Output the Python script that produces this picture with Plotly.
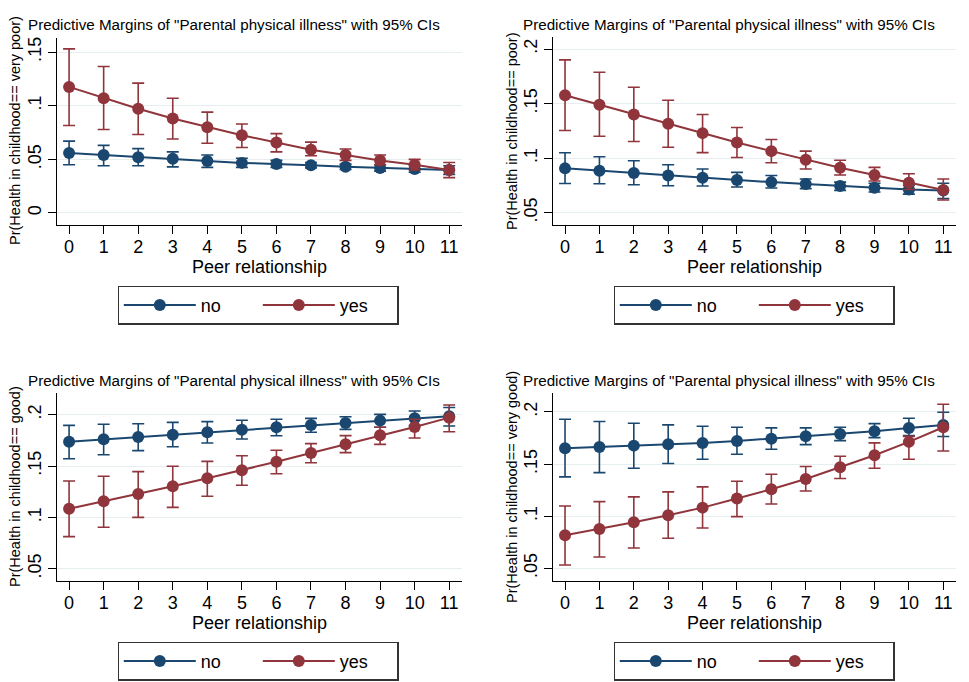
import plotly.graph_objects as go

W, H = 969, 682

peer = list(range(12))
tick_labels_x = [str(v) for v in peer]

vp_no = [0.056, 0.054, 0.052, 0.0505, 0.0485, 0.0467, 0.0457, 0.0445, 0.043, 0.042, 0.041, 0.040]
vp_no_lo = [0.045, 0.044, 0.044, 0.043, 0.0425, 0.0425, 0.0425, 0.042, 0.0405, 0.039, 0.038, 0.036]
vp_no_hi = [0.067, 0.063, 0.060, 0.057, 0.054, 0.051, 0.049, 0.047, 0.0455, 0.045, 0.044, 0.044]
vp_yes = [0.1175, 0.107, 0.0972, 0.088, 0.080, 0.0725, 0.0656, 0.059, 0.054, 0.049, 0.045, 0.040]
vp_yes_lo = [0.0816, 0.0778, 0.0731, 0.069, 0.065, 0.061, 0.057, 0.0534, 0.049, 0.045, 0.040, 0.033]
vp_yes_hi = [0.153, 0.1366, 0.121, 0.107, 0.094, 0.083, 0.074, 0.066, 0.0597, 0.054, 0.050, 0.047]

p_no = [0.0906, 0.0884, 0.0863, 0.0841, 0.082, 0.0799, 0.078, 0.0762, 0.0744, 0.0729, 0.0713, 0.0704]
p_no_lo = [0.0768, 0.0765, 0.0756, 0.0747, 0.0744, 0.0735, 0.0726, 0.072, 0.0704, 0.069, 0.067, 0.063]
p_no_hi = [0.1049, 0.1012, 0.0976, 0.0939, 0.090, 0.0869, 0.0841, 0.0808, 0.078, 0.077, 0.075, 0.077]
p_yes = [0.1576, 0.149, 0.140, 0.1314, 0.1229, 0.1143, 0.1064, 0.0985, 0.0912, 0.0845, 0.0774, 0.0707]
p_yes_lo = [0.1253, 0.120, 0.1152, 0.110, 0.105, 0.1006, 0.0957, 0.090, 0.0845, 0.079, 0.0713, 0.0616]
p_yes_hi = [0.190, 0.1787, 0.165, 0.153, 0.140, 0.128, 0.117, 0.1064, 0.098, 0.0915, 0.0857, 0.0808]

g_no = [0.1737, 0.176, 0.1782, 0.1805, 0.1828, 0.1854, 0.1877, 0.190, 0.1919, 0.1942, 0.1964, 0.1985]
g_no_lo = [0.1571, 0.161, 0.165, 0.1688, 0.1724, 0.1763, 0.1795, 0.1828, 0.1857, 0.1877, 0.1893, 0.189]
g_no_hi = [0.1896, 0.1906, 0.1912, 0.1925, 0.1932, 0.1945, 0.1955, 0.1964, 0.198, 0.2003, 0.2036, 0.207]
g_yes = [0.1084, 0.1156, 0.1227, 0.1302, 0.138, 0.1458, 0.1542, 0.1627, 0.1711, 0.1799, 0.188, 0.1971]
g_yes_lo = [0.0812, 0.0903, 0.100, 0.1097, 0.1205, 0.1312, 0.1425, 0.1532, 0.163, 0.1711, 0.1773, 0.1834]
g_yes_hi = [0.1354, 0.140, 0.1445, 0.1497, 0.1545, 0.160, 0.1653, 0.1718, 0.1796, 0.1877, 0.1955, 0.2094]

vg_no = [0.1652, 0.1664, 0.1677, 0.169, 0.1703, 0.1722, 0.1744, 0.1767, 0.1789, 0.1815, 0.1847, 0.1876]
vg_no_lo = [0.1377, 0.1418, 0.146, 0.1505, 0.1546, 0.1594, 0.1642, 0.1687, 0.1725, 0.1754, 0.1773, 0.1764]
vg_no_hi = [0.193, 0.1908, 0.1892, 0.1876, 0.1863, 0.1853, 0.1847, 0.1847, 0.1853, 0.1888, 0.194, 0.1997]
vg_yes = [0.0817, 0.0877, 0.0941, 0.1009, 0.1082, 0.1169, 0.1258, 0.1357, 0.1469, 0.1585, 0.1713, 0.1853]
vg_yes_lo = [0.0532, 0.0609, 0.0695, 0.0788, 0.0887, 0.0996, 0.1117, 0.1242, 0.1361, 0.146, 0.1546, 0.1626]
vg_yes_hi = [0.1098, 0.114, 0.1185, 0.1233, 0.1281, 0.1335, 0.1402, 0.1476, 0.1575, 0.1703, 0.1766, 0.2074]

ylabels = ["Pr(Health in childhood== very poor)", "Pr(Health in childhood== poor)",
           "Pr(Health in childhood== good)", "Pr(Health in childhood== very good)"]
title_text = 'Predictive Margins of "Parental physical illness" with 95% CIs'
series_names = ["no", "yes"]
ytick_vals = [[0, 0.05, 0.1, 0.15], [0.05, 0.1, 0.15, 0.2], [0.05, 0.1, 0.15, 0.2], [0.05, 0.1, 0.15, 0.2]]
ytick_text = [["0", ".05", ".1", ".15"], [".05", ".1", ".15", ".2"], [".05", ".1", ".15", ".2"], [".05", ".1", ".15", ".2"]]

panels = [
    (vp_no, vp_no_lo, vp_no_hi, vp_yes, vp_yes_lo, vp_yes_hi),
    (p_no, p_no_lo, p_no_hi, p_yes, p_yes_lo, p_yes_hi),
    (g_no, g_no_lo, g_no_hi, g_yes, g_yes_lo, g_yes_hi),
    (vg_no, vg_no_lo, vg_no_hi, vg_yes, vg_yes_lo, vg_yes_hi),
]

BLUE = "#1a476f"
RED = "#90353b"
GRID = "#e6eef0"
FONT = "Liberation Sans, Arial, Helvetica, sans-serif"

# pixel geometry: (left, right, top, bottom) of each plot area
geom = [(57, 462, 38, 225), (553, 956, 37, 225), (57, 462, 393, 581), (553, 956, 393, 581)]
yranges = [(-0.0112, 0.1631), (0.0387, 0.211), (0.038, 0.2211), (0.0378, 0.2182)]
title_pos = [(26, 25), (521, 25), (26, 381), (521, 381)]
ytitle_pos = [(15, 131), (512, 131), (15, 487), (512, 487)]
xtitle_pos = [(259, 267), (754, 267), (259, 623), (754, 623)]
legend_pos = [(258, 305), (754, 305), (258, 661), (754, 661)]

def px(x):
    return x / W

def py(y):
    return 1 - y / H

fig = go.Figure()
annotations = []
layout = {}
for i, (no, no_lo, no_hi, yes, yes_lo, yes_hi) in enumerate(panels):
    k = "" if i == 0 else str(i + 1)
    lg = "legend" if i == 0 else "legend" + str(i + 1)
    for name, vals, lo, hi, col in ((series_names[0], no, no_lo, no_hi, BLUE),
                                    (series_names[1], yes, yes_lo, yes_hi, RED)):
        fig.add_trace(go.Scatter(
            x=peer, y=vals, name=name, mode="lines+markers",
            line=dict(color=col, width=2),
            marker=dict(color=col, size=12, line=dict(width=0)),
            error_y=dict(type="data", symmetric=False,
                         array=[h - v for h, v in zip(hi, vals)],
                         arrayminus=[v - l for v, l in zip(vals, lo)],
                         color=col, thickness=1.6, width=6),
            xaxis="x" + k, yaxis="y" + k, legend=lg, showlegend=True,
        ))
    l, r, t, b = geom[i]
    layout["xaxis" + k] = dict(
        domain=[px(l), px(r)], range=[-0.35, 11.37], anchor="y" + k, automargin=False,
        tickvals=peer, ticktext=tick_labels_x, ticks="outside", ticklen=8, tickwidth=1.3,
        tickcolor="black", showline=True, linecolor="black", linewidth=1.3,
        showgrid=False, zeroline=False, ticklabelstandoff=-3,
        tickfont=dict(size=18, color="black", family=FONT),
    )
    layout["yaxis" + k] = dict(
        domain=[py(b), py(t)], range=list(yranges[i]), anchor="x" + k, automargin=False,
        tickvals=ytick_vals[i], ticktext=ytick_text[i], ticks="outside", ticklen=8,
        tickwidth=1.3, tickcolor="black", showline=True, linecolor="black", linewidth=1.3,
        showgrid=True, gridcolor=GRID, gridwidth=1.3, zeroline=False, tickangle=-90,
        tickfont=dict(size=18, color="black", family=FONT),
    )
    lx, ly = legend_pos[i]
    layout[lg] = dict(
        x=px(lx), y=py(ly), xanchor="center", yanchor="middle", orientation="h",
        bordercolor="#333333", borderwidth=1.3, bgcolor="white",
        font=dict(size=18, color="black", family=FONT), itemwidth=72,
        entrywidth=52, entrywidthmode="pixels", traceorder="normal",
    )
    tx, ty = title_pos[i]
    annotations.append(dict(text=title_text, x=px(tx), y=py(ty), xref="paper", yref="paper",
                            xanchor="left", yanchor="middle", showarrow=False,
                            font=dict(size=15.2, color="black", family=FONT)))
    yx, yy = ytitle_pos[i]
    annotations.append(dict(text=ylabels[i], x=px(yx), y=py(yy), xref="paper", yref="paper",
                            xanchor="center", yanchor="middle", showarrow=False, textangle=-90,
                            font=dict(size=14.5, color="black", family=FONT)))
    xx, xy = xtitle_pos[i]
    annotations.append(dict(text="Peer relationship", x=px(xx), y=py(xy), xref="paper", yref="paper",
                            xanchor="center", yanchor="middle", showarrow=False,
                            font=dict(size=18, color="black", family=FONT)))

fig.update_layout(
    width=W, height=H, margin=dict(l=0, r=0, t=0, b=0, autoexpand=False),
    paper_bgcolor="white", plot_bgcolor="white",
    annotations=annotations, font=dict(family=FONT, color="black"),
    **layout,
)
fig.write_html("out.html", config={"displayModeBar": False},
               post_script="document.body.style.margin='0px';")
